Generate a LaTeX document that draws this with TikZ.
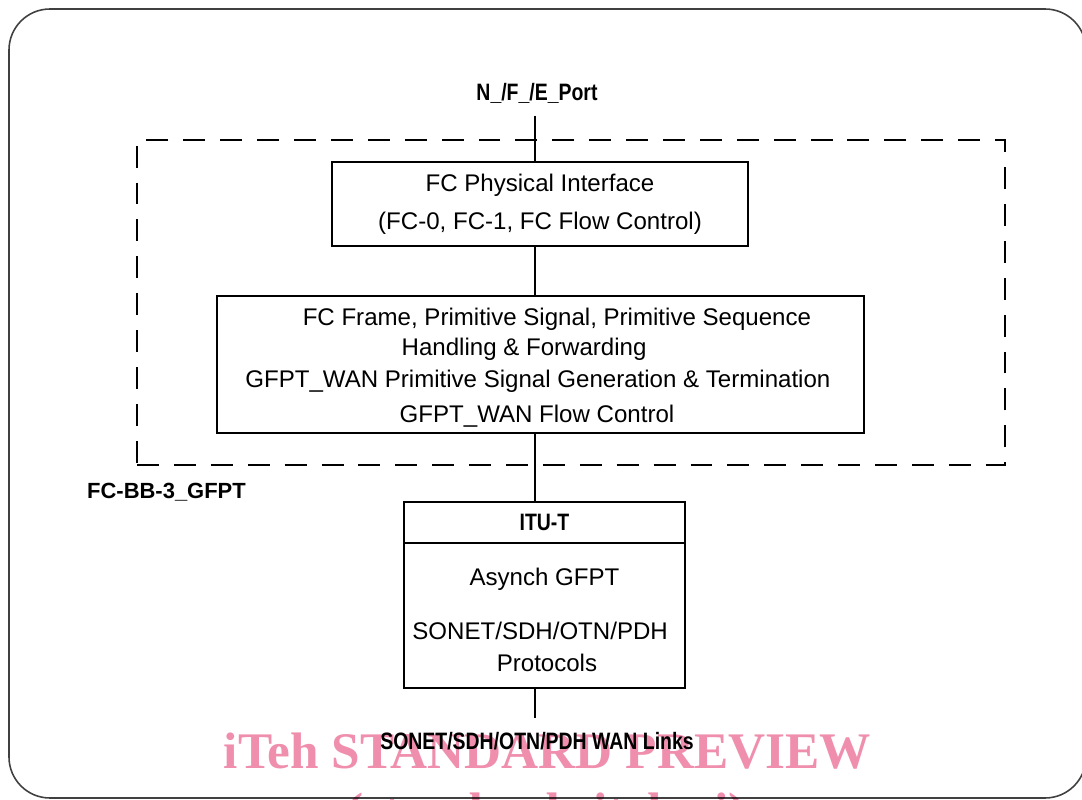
\documentclass[tikz,border=0pt]{standalone}
\usepackage{fontspec}
\setmainfont{Liberation Sans}
\newfontfamily\condfont[FakeStretch=0.82]{Liberation Sans}
\newfontfamily\stampfont{Liberation Serif}
\usetikzlibrary{positioning}
\definecolor{stamppink}{RGB}{239,143,173}
\tikzstyle{layer} = [rectangle, draw=black, line width=1.1pt, inner sep=0pt, outer sep=0pt, align=center, font=\fontsize{13.7}{17}\selectfont]
\tikzstyle{heading} = [font=\condfont\bfseries\fontsize{13.5}{15}\selectfont, inner sep=1pt]
\tikzstyle{link} = [line width=1.1pt]
\tikzstyle{groupbox} = [rectangle, draw=black, line width=1.1pt, dash pattern=on 12.5pt off 8.5pt]
\tikzstyle{stamp} = [text=stamppink, font=\stampfont\bfseries\fontsize{29.2}{34}\selectfont, anchor=base]

\begin{document}
\begin{tikzpicture}[x=0.02cm, y=-0.02cm]
\useasboundingbox (0,0) rectangle (1082,800);
\draw [color=black!75, line width=0.9pt, rounded corners=0.82cm] (9,9) rectangle (1086,798);

\node (port) [heading] at (537,93) {N\_/F\_/E\_Port};

\node (bbgroup) [groupbox, minimum width=17.36cm, minimum height=6.5cm] at (571,302.5) {};

\node (phys) [layer, minimum width=8.32cm, minimum height=1.68cm, font=\fontsize{13.7}{21.5}\selectfont] at (540,204) {FC Physical Interface\\(FC-0, FC-1, FC Flow Control)};

\node (fwd) [layer, minimum width=12.94cm, minimum height=2.74cm] at (540.5,364.5) {\rule{0pt}{13.4pt}\hspace*{18.7pt}FC Frame, Primitive Signal, Primitive Sequence\\Handling \& Forwarding\hspace*{18.7pt}\mbox{}\\[1.1pt]GFPT\_WAN Primitive Signal Generation \& Termination\hspace*{3pt}\mbox{}\\[2.8pt]GFPT\_WAN Flow Control\hspace*{4pt}\mbox{}};

\node (bblabel) [heading, font=\bfseries\fontsize{12.5}{14}\selectfont] at (166.5,492) {FC-BB-3\_GFPT};

\node (ituhead) [layer, font=\condfont\bfseries\fontsize{13.5}{15}\selectfont, minimum width=5.62cm, minimum height=0.82cm] at (544.5,522.5) {ITU-T};

\node (itubody) [layer, below=0pt of ituhead, minimum width=5.62cm, minimum height=2.9cm] {\rule{0pt}{15pt}Asynch GFPT\\[13.6pt]SONET/SDH/OTN/PDH\hspace*{5pt}\mbox{}\\[1pt]\hspace*{2.8pt}Protocols};

\node (wan) [heading] at (537,741) {SONET/SDH/OTN/PDH WAN Links};

\coordinate (spine) at (535,0);

\draw [link, shorten <=6pt] (port.south -| spine) -- (phys.north -| spine);
\draw [link] (phys.south -| spine) -- (fwd.north -| spine);
\draw [link] (fwd.south -| spine) -- (ituhead.north -| spine);
\draw [link, shorten >=7pt] (itubody.south -| spine) -- (wan.north -| spine);

\begin{scope}[blend mode=multiply]
\node (stampa) [stamp] at (547.5,768) {iTeh STANDARD PREVIEW};
\node (stampb) [stamp] at (546,828) {(standards.iteh.ai)};
\end{scope}

\end{tikzpicture}
\end{document}
